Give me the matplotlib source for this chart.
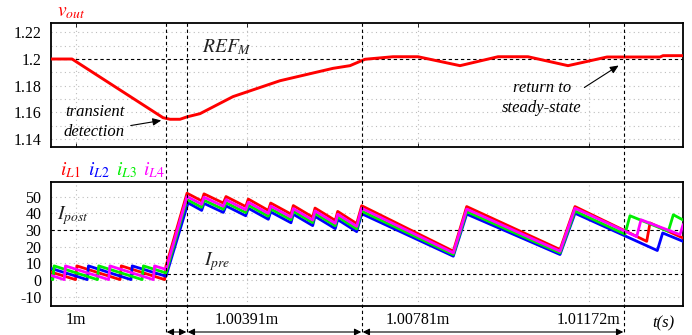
import matplotlib
matplotlib.use("Agg")
import matplotlib.pyplot as plt
from matplotlib.lines import Line2D

plt.rcParams['font.family'] = ['Liberation Serif', 'DejaVu Serif']
plt.rcParams['mathtext.fontset'] = 'stix'

# ---------------- data (time in microseconds after 1 ms) ----------------
t_min, t_max = -0.571, 13.866
xtick_pos = [0.0, 3.90625, 7.8125, 11.71875]
xtick_labels = ["1m", "1.00391m", "1.00781m", "1.01172m"]

vout_t = [-0.571, -0.091, 1.987, 2.147, 2.376, 2.536, 2.833, 3.587, 4.660, 5.871,
          6.259, 6.602, 7.242, 7.813, 8.772, 9.640, 10.325, 11.239, 12.130,
          13.341, 13.410, 13.866]
vout_v = [1.2, 1.2, 1.156, 1.1548, 1.1548, 1.1566, 1.159, 1.1718, 1.1837, 1.1930,
          1.195, 1.1998, 1.2017, 1.2017, 1.195, 1.2017, 1.2017, 1.195, 1.2015,
          1.2015, 1.2025, 1.2025]
ref_m = 1.2

# common synchronized segment times
sync_t = [2.871, 2.924, 3.365, 3.427, 3.877, 3.936, 4.393, 4.448, 4.911, 4.964,
          5.407, 5.460, 5.923, 5.978, 6.412, 6.526, 8.619, 8.925, 11.057, 11.399]

iL1_t = [-0.571, -0.01, 0.02, 1.005, 1.035, 2.025, 2.055, 2.536] + sync_t + [13.037, 13.112, 13.866]
iL1_v = [4.8, 0.3, 8.5, 0.3, 8.5, 0.3, 8.3, 52.0,
         47.4, 51.6, 46.1, 50.0, 44.0, 48.5, 41.7, 46.1, 39.5, 44.6,
         37.7, 43.1, 35.7, 41.1, 33.8, 44.5, 17.3, 44.0, 18.3, 44.0,
         23.2, 34.2, 25.2]

iL2_t = [-0.571, 0.255, 0.285, 1.255, 1.285, 2.056, 2.56] + sync_t + [13.279, 13.402, 13.866]
iL2_v = [7.0, 0.3, 8.5, 0.3, 8.5, 2.3, 46.2,
         41.7, 45.9, 40.5, 44.4, 38.5, 43.0, 36.4, 40.8, 34.3, 39.4,
         32.6, 38.1, 30.8, 36.2, 29.0, 39.7, 14.3, 39.5, 15.3, 40.0,
         17.7, 28.2, 23.2]

iL3_t = [-0.571, -0.53, -0.50, 0.49, 0.52, 1.51, 1.54, 2.056, 2.536] + sync_t + [12.541, 12.655, 13.530, 13.645, 13.866]
iL3_v = [0.7, 0.3, 8.5, 0.3, 8.5, 0.3, 8.5, 4.3, 48.2,
         43.6, 47.8, 42.4, 46.3, 40.4, 44.9, 38.2, 42.6, 36.1, 41.2,
         34.4, 39.9, 32.5, 37.9, 30.6, 41.3, 15.3, 41.0, 16.3, 41.3,
         27.5, 38.5, 29.2, 39.1, 36.0]

iL4_t = [-0.571, -0.27, -0.24, 0.745, 0.775, 1.765, 1.795, 2.056, 2.536] + sync_t + [12.808, 12.907, 13.797, 13.866]
iL4_v = [2.8, 0.3, 8.5, 0.3, 8.5, 0.3, 8.5, 6.4, 50.0,
         45.4, 49.6, 44.2, 48.1, 42.1, 46.6, 39.9, 44.3, 37.7, 42.8,
         35.9, 41.4, 34.0, 39.4, 32.2, 43.0, 16.3, 42.5, 17.3, 43.0,
         26.0, 36.1, 27.2, 33.0]

I_post = 30.0
I_pre = 3.8
event_t = [2.056, 2.536, 6.533, 12.518]

# ---------------- figure ----------------
W, H = 692, 335
fig = plt.figure(figsize=(W / 100, H / 100), dpi=100)

def fx(px):
    return px / W

def fy(py):
    return 1 - py / H

L, R = 51, 683
ax1 = fig.add_axes([fx(L), fy(147), fx(R) - fx(L), fy(23) - fy(147)])
ax2 = fig.add_axes([fx(L), fy(306), fx(R) - fx(L), fy(182) - fy(306)])

grid_kw = dict(color='#bdbdbd', lw=0.8, ls=(0, (1, 3)))
dash_kw = dict(color='black', lw=0.8, ls=(0, (3, 2.5)))

for ax in (ax1, ax2):
    ax.set_xlim(t_min, t_max)
    ax.set_xticks(xtick_pos)
    for s in ax.spines.values():
        s.set_linewidth(1.3)
    ax.tick_params(axis='both', direction='in', length=3, width=0.6,
                   labelsize=11.5, top=True, right=False, colors='black')
    ax.tick_params(axis='y', length=0, pad=7)
    for xt in xtick_pos:
        ax.axvline(xt, **grid_kw, zorder=0)

# top panel
ax1.set_ylim(1.134, 1.227)
ax1.set_yticks([1.14, 1.16, 1.18, 1.2, 1.22])
ax1.set_yticklabels(["1.14", "1.16", "1.18", "1.2", "1.22"])
ax1.set_xticklabels([])
for yv in [1.14, 1.15, 1.16, 1.17, 1.18, 1.19, 1.21, 1.22]:
    ax1.axhline(yv, **grid_kw, zorder=0)
ax1.axhline(ref_m, **dash_kw, zorder=1)
ax1.plot(vout_t, vout_v, color='#ff0000', lw=2.1, zorder=3)

# bottom panel
ax2.set_ylim(-15.5, 58.7)
ax2.set_yticks([-10, 0, 10, 20, 30, 40, 50])
ax2.set_yticklabels(["-10", "0", "10", "20", "30", "40", "50"])
ax2.set_xticklabels(xtick_labels)
ax2.tick_params(axis='x', pad=4, length=0)
for yv in [-10, 0, 10, 20, 40, 50]:
    ax2.axhline(yv, **grid_kw, zorder=0)
ax2.axhline(I_post, **dash_kw, zorder=1)
ax2.axhline(I_pre, **dash_kw, zorder=1)
ax2.plot(iL1_t, iL1_v, color='#ff0000', lw=2.0, zorder=3)
ax2.plot(iL2_t, iL2_v, color='#0000ff', lw=2.0, zorder=3)
ax2.plot(iL3_t, iL3_v, color='#00ee00', lw=2.0, zorder=3)
ax2.plot(iL4_t, iL4_v, color='#ff00ff', lw=2.0, zorder=3)

# vertical event lines spanning the figure
def t2fx(t):
    p = ax1.get_position()
    return p.x0 + (t - t_min) / (t_max - t_min) * p.width

for t in event_t:
    fig.add_artist(Line2D([t2fx(t), t2fx(t)], [fy(23), 0.0], color='black',
                          lw=0.8, ls=(0, (3, 2.5)), zorder=5))

# double arrows at the bottom
ya = fy(332)
for a, b in zip(event_t[:-1], event_t[1:]):
    fig.add_artist(matplotlib.patches.FancyArrowPatch(
        (t2fx(a), ya), (t2fx(b), ya), transform=fig.transFigure,
        arrowstyle='<|-|>,head_length=4,head_width=2', color='black', lw=0.8,
        shrinkA=0.5, shrinkB=0.5, mutation_scale=1))

# texts
ital = dict(fontstyle='italic', fontsize=12)
fig.text(fx(57), fy(12), r"$v_{out}$", color='#ff0000', fontsize=14, va='center')
fig.text(fx(202), fy(47), r"$REF_M$", fontsize=14, va='center', color='#222222')
fig.text(fx(95), fy(112), "transient", ha='center', va='center', **ital)
fig.text(fx(94), fy(132), "detection", ha='center', va='center', **ital)
fig.text(fx(542), fy(88), "return to", ha='center', va='center', **ital)
fig.text(fx(542), fy(108), "steady-state", ha='center', va='center', **ital)
fig.add_artist(matplotlib.patches.FancyArrowPatch(
    (fx(128), fy(126)), (fx(164), fy(120)), transform=fig.transFigure,
    arrowstyle='-|>,head_length=5,head_width=2.2', color='black', lw=0.8,
    mutation_scale=1))
fig.add_artist(matplotlib.patches.FancyArrowPatch(
    (fx(582), fy(89)), (fx(621), fy(64)), transform=fig.transFigure,
    arrowstyle='-|>,head_length=5,head_width=2.2', color='black', lw=0.8,
    mutation_scale=1))

for x0, lab, col in [(60, r"$i_{\mathit{L1}}$", '#ff0000'), (88, r"$i_{\mathit{L2}}$", '#0000ff'),
                     (116, r"$i_{\mathit{L3}}$", '#00ee00'), (143, r"$i_{\mathit{L4}}$", '#ff00ff')]:
    fig.text(fx(x0), fy(170), lab, color=col, fontsize=14, va='center')

fig.text(fx(57), fy(216), r"$I_{post}$", fontsize=14, va='center', color='#222222')
fig.text(fx(204), fy(262), r"$I_{pre}$", fontsize=14, va='center', color='#222222')
fig.text(fx(663), fy(323), "t(s)", ha='center', va='center', **ital)

fig.savefig("out.png", dpi=100)
